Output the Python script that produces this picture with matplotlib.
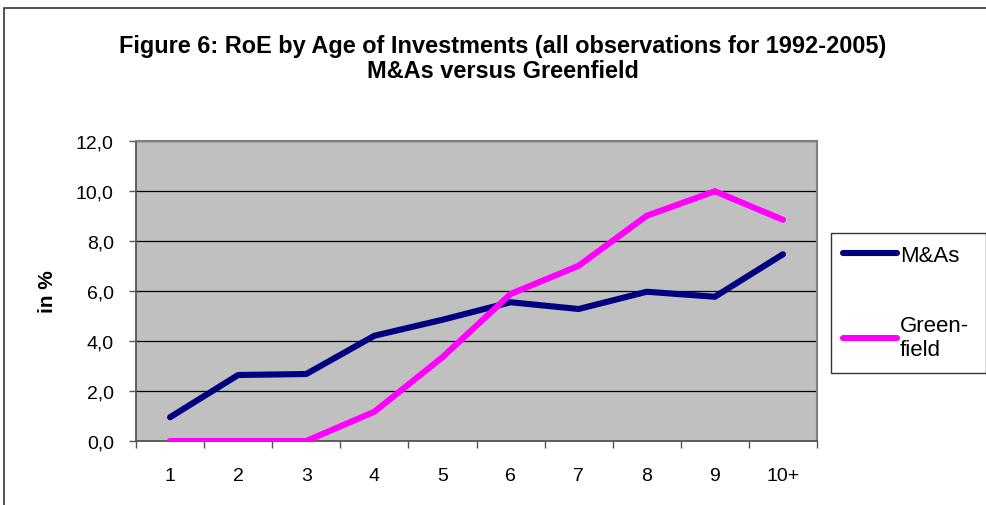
import matplotlib
matplotlib.use("Agg")
import matplotlib.pyplot as plt
from matplotlib.patches import Rectangle
from matplotlib.ticker import FuncFormatter, FixedLocator

# data
ages = ["1", "2", "3", "4", "5", "6", "7", "8", "9", "10+"]
mas = [0.95, 2.64, 2.68, 4.21, 4.85, 5.55, 5.28, 5.97, 5.77, 7.47]
greenfield = [0.0, 0.0, 0.0, 1.17, 3.35, 5.88, 7.01, 9.01, 9.99, 8.85]

plt.rcParams["font.family"] = ["Liberation Sans", "DejaVu Sans"]

W, H = 987, 506
fig = plt.figure(figsize=(W / 100, H / 100), dpi=100)
fig.patch.set_facecolor("white")

# outer chart frame
fig.patches.append(Rectangle((4 / W, -0.05), 1.2, 1 - 9 / H + 0.05,
                             transform=fig.transFigure, fill=False,
                             edgecolor="#333333", linewidth=1.2))

ax = fig.add_axes([136 / W, (H - 442) / H, (817 - 136) / W, 300 / H])
ax.set_facecolor("#C0C0C0")

x = [i + 0.5 for i in range(len(ages))]
ax.plot(x, mas, color="#000080", linewidth=4.4, solid_capstyle="round",
        solid_joinstyle="round", label="M&As", zorder=3)
ax.plot(x, greenfield, color="#FF00FF", linewidth=4.4, solid_capstyle="round",
        solid_joinstyle="round", label="Green-\nfield", zorder=3)

ax.set_xlim(0, len(ages))
ax.set_ylim(0, 12)
ax.set_yticks([0, 2, 4, 6, 8, 10, 12])
ax.yaxis.set_major_formatter(FuncFormatter(lambda v, p: f"{v:.1f}".replace(".", ",")))
ax.grid(axis="y", color="black", linewidth=0.9)
ax.set_axisbelow(True)

ax.xaxis.set_major_locator(FixedLocator(range(len(ages) + 1)))
ax.xaxis.set_major_formatter(FuncFormatter(lambda v, p: ""))
ax.xaxis.set_minor_locator(FixedLocator(x))
ax.set_xticklabels(ages, minor=True)
ax.tick_params(axis="x", which="major", direction="out", length=5, width=1, color="#555555")
ax.tick_params(axis="x", which="minor", length=0, pad=19, labelsize=14)
ax.tick_params(axis="y", direction="out", length=5, width=1, color="#555555",
               pad=11, labelsize=14)

for side in ["top", "right"]:
    ax.spines[side].set_color("#808080")
    ax.spines[side].set_linewidth(1.5)
for side in ["left", "bottom"]:
    ax.spines[side].set_color("#555555")
    ax.spines[side].set_linewidth(1.3)

ax.set_ylabel("in %", fontsize=15, fontweight="bold")
ax.yaxis.set_label_coords(-0.116, 0.5)

fig.text(503 / W, 1 - 47 / H,
         "Figure 6: RoE by Age of Investments (all observations for 1992-2005)",
         ha="center", va="center", fontsize=16.9, fontweight="bold")
fig.text(503 / W, 1 - 72 / H, "M&As versus Greenfield",
         ha="center", va="center", fontsize=16.9, fontweight="bold")

leg = fig.legend(loc="upper left",
                 bbox_to_anchor=(831 / W, 1 - 372 / H, 155 / W, 138 / H),
                 mode="expand", frameon=True, fancybox=False, fontsize=16,
                 handlelength=2.4, handletextpad=0.15, labelspacing=2.2,
                 borderpad=0.55, borderaxespad=0)
leg.get_frame().set_edgecolor("black")
leg.get_frame().set_linewidth(1.0)

fig.savefig("out.png", dpi=100)
